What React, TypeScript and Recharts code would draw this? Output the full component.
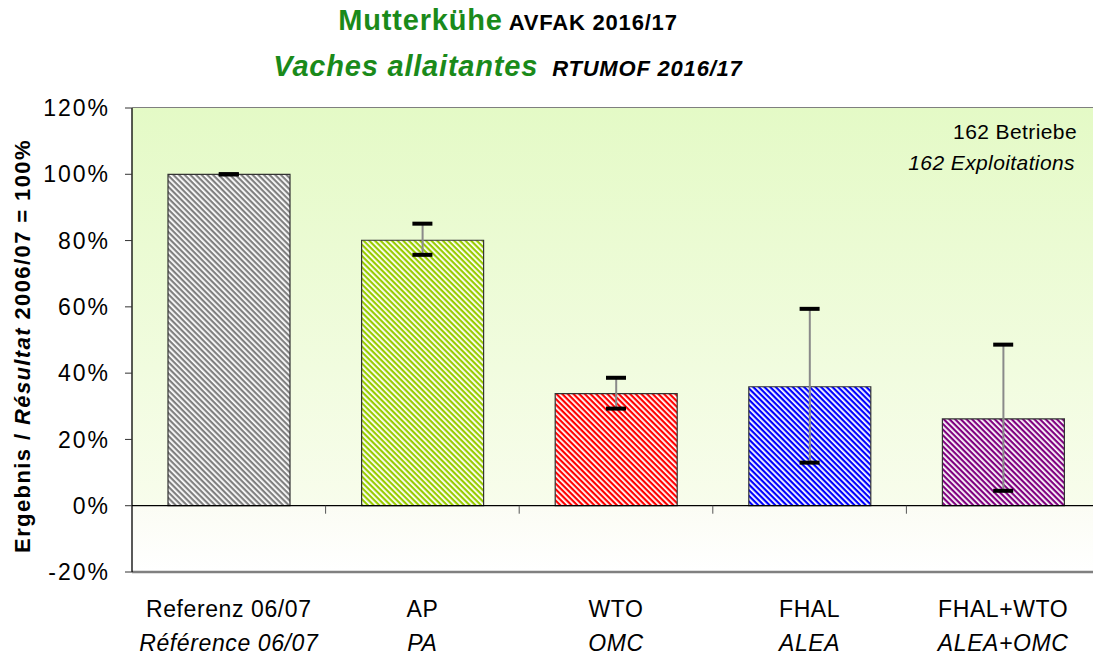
import React from 'react';
import {
  ComposedChart, Bar, Cell, XAxis, YAxis, CartesianGrid, ErrorBar, Scatter, ReferenceArea, ReferenceLine,
} from 'recharts';

const labelsDe = ['Referenz 06/07', 'AP', 'WTO', 'FHAL', 'FHAL+WTO'];
const labelsFr = ['Référence 06/07', 'PA', 'OMC', 'ALEA', 'ALEA+OMC'];
const result = [100, 80.1, 33.8, 35.9, 26.2];
const high = [100, 85.1, 38.6, 59.4, 48.6];
const low = [100, 75.7, 29.3, 13.0, 4.5];
const barColors = ['#808080', '#99cc00', '#ff0000', '#0000ff', '#800080'];
const yTicks = [-20, 0, 20, 40, 60, 80, 100, 120];

const W = 1093;
const H = 660;
const TOP = 108;
const LEFT = 132;
const RIGHT = -7;
const XAXIS_H = 88;
const FONT = '"Liberation Sans", Arial, sans-serif';

const plotW = W - LEFT - RIGHT;
const plotH = H - TOP - XAXIS_H;
const band = plotW / labelsDe.length;
const zeroY = TOP + (120 / 140) * plotH;

const data = labelsDe.map((de, i) => ({
  de,
  fr: labelsFr[i],
  value: result[i],
  hi: high[i],
  lo: low[i],
  err: [result[i] - low[i], high[i] - result[i]],
}));

const XTick = (props: any) => {
  const { x, y, payload, index } = props;
  const d = data[index] || data.find(r => r.de === payload.value);
  return (
    <g>
      <line x1={x + band / 2} x2={x + band / 2} y1={zeroY} y2={zeroY + 8} stroke="#555" strokeWidth={1} />
      <text x={x} y={y + 45} textAnchor="middle" fontSize={23} fontFamily={FONT} fill="#000" letterSpacing={0.6}>
        {d.de}
      </text>
      <text x={x} y={y + 79} textAnchor="middle" fontSize={23} fontFamily={FONT} fill="#000" fontStyle="italic" letterSpacing={0.6}>
        {d.fr}
      </text>
    </g>
  );
};

const Cap = (props: any) => {
  const { cx, cy } = props;
  if (cx == null || cy == null) return null;
  return <rect x={cx - 10} y={cy - 2} width={20} height={4} fill="#000" />;
};

const App: React.FC = () => {
  return (
    <div style={{ position: 'absolute', left: 0, top: 0, width: W, height: H, background: '#fff' }}>
      <ComposedChart
        width={W}
        height={H}
        data={data}
        margin={{ top: TOP, right: RIGHT, bottom: 0, left: 0 }}
      >
        <defs>
          <linearGradient id="bgTop" x1="0" y1="0" x2="0" y2="1">
            <stop offset="0%" stopColor="#e4fac6" />
            <stop offset="100%" stopColor="#f8fdec" />
          </linearGradient>
          <linearGradient id="bgBottom" x1="0" y1="0" x2="0" y2="1">
            <stop offset="0%" stopColor="#fbfcf4" />
            <stop offset="100%" stopColor="#ffffff" />
          </linearGradient>
          {barColors.map((c, i) => (
            <pattern key={c} id={`stripe${i}`} width={4} height={4} patternUnits="userSpaceOnUse" patternTransform="rotate(45)">
              <rect width={4} height={4} fill="#ffffff" />
              <rect width={4} height={2.2} fill={c} />
            </pattern>
          ))}
        </defs>
        <ReferenceArea y1={0} y2={120} fill="url(#bgTop)" fillOpacity={1} stroke="none" ifOverflow="visible" />
        <ReferenceArea y1={-20} y2={0} fill="url(#bgBottom)" fillOpacity={1} stroke="none" ifOverflow="visible" />
        <CartesianGrid vertical={false} stroke="#555" strokeWidth={1.3} />
        <XAxis
          dataKey="de"
          height={XAXIS_H}
          axisLine={false}
          tickLine={false}
          tickSize={0}
          tickMargin={0}
          interval={0}
          tick={<XTick />}
        />
        <YAxis
          width={LEFT}
          domain={[-20, 120]}
          ticks={yTicks}
          interval={0}
          tickSize={7}
          tickMargin={15}
          tickFormatter={(v: number) => `${v}%`}
          tick={{ fontSize: 23, fill: '#000', fontFamily: FONT, letterSpacing: 2 }}
          axisLine={{ stroke: '#000', strokeWidth: 1.3 }}
          tickLine={{ stroke: '#333' }}
        />
        <ReferenceLine y={-20} stroke="#808080" strokeWidth={2.5} />
        <ReferenceLine y={0} stroke="#000" strokeWidth={1.3} />
        <Bar dataKey="value" barSize={122} isAnimationActive={false} stroke="#333" strokeWidth={1.2}>
          {data.map((_, i) => (
            <Cell key={i} fill={`url(#stripe${i})`} />
          ))}
          <ErrorBar dataKey="err" width={0} stroke="#8a8a8a" strokeWidth={2} />
        </Bar>
        <Scatter dataKey="hi" isAnimationActive={false} shape={<Cap />} />
        <Scatter dataKey="lo" isAnimationActive={false} shape={<Cap />} />
      </ComposedChart>
      <svg width={W} height={H} style={{ position: 'absolute', left: 0, top: 0, pointerEvents: 'none' }}>
        <text x={508} y={30} textAnchor="middle" fontFamily={FONT} fontWeight="bold" letterSpacing={0.8}>
          <tspan fontSize={29} fill="#1a8a1a">Mutterkühe</tspan>
          <tspan fontSize={22} fill="#000"> AVFAK 2016/17</tspan>
        </text>
        <text x={508} y={76} textAnchor="middle" fontFamily={FONT} fontWeight="bold" fontStyle="italic" letterSpacing={0.8}>
          <tspan fontSize={29} fill="#1a8a1a">Vaches allaitantes</tspan>
          <tspan fontSize={22} fill="#000" dx={14}>RTUMOF 2016/17</tspan>
        </text>
        <text x={1077} y={139} textAnchor="end" fontFamily={FONT} fontSize={21} fill="#000" letterSpacing={0.4}>
          162 Betriebe
        </text>
        <text x={1075} y={170} textAnchor="end" fontFamily={FONT} fontSize={21} fill="#000" fontStyle="italic" letterSpacing={0.4}>
          162 Exploitations
        </text>
        <text
          transform="translate(30,346) rotate(-90)"
          textAnchor="middle"
          fontFamily={FONT}
          fontSize={22}
          fontWeight="bold"
          fill="#000"
          letterSpacing={1.4}
        >
          Ergebnis / <tspan fontStyle="italic">Résultat</tspan> 2006/07 = 100%
        </text>
      </svg>
    </div>
  );
};

export default App;
